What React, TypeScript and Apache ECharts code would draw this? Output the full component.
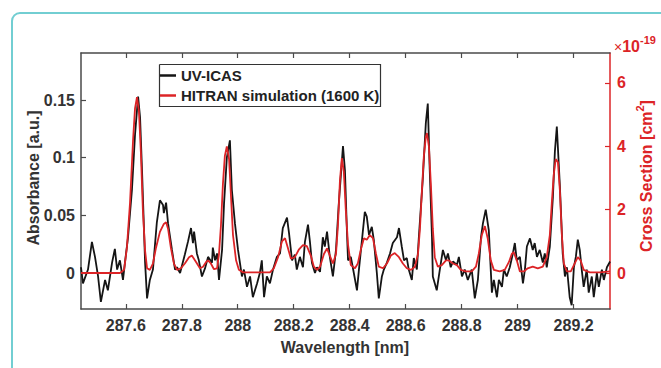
import React, { useEffect, useRef } from "react";
import * as echarts from "echarts";

// Measured UV-ICAS absorbance spectrum
const icasWavelength = [
  287.44, 287.447, 287.465, 287.479, 287.49, 287.501, 287.511, 287.526, 287.536, 287.551,
  287.561, 287.569, 287.579, 287.59, 287.597, 287.608, 287.622, 287.633, 287.644, 287.651,
  287.658, 287.669, 287.676, 287.686, 287.697, 287.711, 287.722, 287.733, 287.736, 287.744,
  287.751, 287.765, 287.776, 287.783, 287.794, 287.811, 287.822, 287.833, 287.84, 287.844,
  287.854, 287.861, 287.872, 287.883, 287.894, 287.908, 287.911, 287.919, 287.926, 287.933,
  287.944, 287.951, 287.961, 287.972, 287.979, 287.99, 288.001, 288.015, 288.022, 288.033,
  288.044, 288.054, 288.069, 288.079, 288.086, 288.094, 288.104, 288.115, 288.126, 288.14,
  288.151, 288.161, 288.176, 288.183, 288.194, 288.204, 288.211, 288.222, 288.233, 288.24,
  288.251, 288.258, 288.265, 288.276, 288.283, 288.294, 288.304, 288.311, 288.319, 288.329,
  288.34, 288.351, 288.361, 288.376, 288.383, 288.39, 288.394, 288.404, 288.411, 288.426,
  288.433, 288.444, 288.454, 288.461, 288.469, 288.479, 288.486, 288.497, 288.504, 288.515,
  288.522, 288.533, 288.544, 288.554, 288.569, 288.576, 288.586, 288.594, 288.604, 288.611,
  288.622, 288.629, 288.64, 288.647, 288.661, 288.672, 288.679, 288.686, 288.694, 288.697,
  288.711, 288.722, 288.733, 288.744, 288.751, 288.761, 288.769, 288.783, 288.79, 288.801,
  288.811, 288.822, 288.836, 288.847, 288.858, 288.869, 288.876, 288.886, 288.897, 288.908,
  288.915, 288.926, 288.933, 288.944, 288.951, 288.961, 288.972, 288.983, 288.99, 288.997,
  289.008, 289.019, 289.026, 289.033, 289.044, 289.054, 289.061, 289.069, 289.079, 289.09,
  289.097, 289.104, 289.115, 289.126, 289.133, 289.14, 289.151, 289.161, 289.169, 289.176,
  289.186, 289.193, 289.201, 289.208, 289.215, 289.222, 289.229, 289.236, 289.247, 289.254,
  289.265, 289.272, 289.283, 289.29, 289.301, 289.308, 289.319, 289.326, 289.33,
];
const icasAbsorbance = [
  0.005, -0.009, 0.003, 0.027, 0.014, -0.003, -0.025, -0.006, -0.015, 0.009,
  0.021, 0.003, 0.011, -0.006, 0.009, 0.031, 0.072, 0.12, 0.153, 0.135,
  0.089, 0.009, -0.022, -0.006, 0.003, 0.044, 0.063, 0.059, 0.052, 0.061,
  0.043, 0.02, 0.003, 0.005, 0.0, 0.016, 0.027, 0.039, 0.026, 0.036,
  0.017, 0.011, -0.003, 0.004, 0.014, 0.009, 0.022, 0.011, 0.017, -0.006,
  0.02, 0.06, 0.1, 0.115, 0.072, 0.043, 0.02, -0.003, 0.003, -0.012,
  -0.003, -0.021, -0.009, 0.0, 0.011, -0.021, -0.003, -0.009, 0.003, 0.014,
  0.017, 0.039, 0.048, 0.035, 0.011, 0.016, 0.003, 0.014, 0.005, 0.027,
  0.042, 0.027, 0.009, 0.0, 0.005, 0.001, 0.031, 0.023, 0.036, 0.014,
  -0.003, 0.02, 0.06, 0.11, 0.089, 0.037, 0.011, 0.014, 0.005, -0.015,
  0.003, 0.029, 0.053, 0.049, 0.033, 0.04, 0.029, 0.0, -0.022, -0.003,
  0.003, 0.009, 0.017, 0.026, 0.031, 0.039, 0.023, 0.011, 0.013, 0.003,
  -0.006, 0.013, 0.003, 0.031, 0.081, 0.13, 0.147, 0.089, 0.031, -0.003,
  -0.015, 0.003, 0.02, 0.011, 0.017, 0.005, 0.01, 0.007, 0.014, -0.003,
  0.003, -0.006, 0.003, -0.022, -0.006, 0.031, 0.043, 0.055, 0.037, -0.017,
  -0.006, -0.021, -0.006, -0.012, 0.003, -0.003, 0.005, 0.017, 0.026, 0.011,
  0.014, -0.009, 0.003, 0.023, 0.03, 0.02, 0.026, 0.014, 0.02, 0.009,
  0.017, 0.005, 0.023, 0.066, 0.105, 0.127, 0.075, 0.017, -0.003, 0.005,
  -0.021, -0.028, 0.005, 0.014, 0.029, 0.02, 0.003, -0.012, 0.003, -0.017,
  -0.003, -0.021, 0.0, -0.012, 0.003, -0.006, 0.005, 0.008, 0.01,
];

// HITRAN simulated cross section at 1600 K, in units of 1e-19 cm^2
const hitranWavelength = [
  287.44, 287.579, 287.594, 287.604, 287.615, 287.626, 287.633, 287.64, 287.647, 287.654,
  287.661, 287.669, 287.676, 287.686, 287.697, 287.708, 287.722, 287.736, 287.744, 287.751,
  287.761, 287.772, 287.783, 287.797, 287.811, 287.826, 287.836, 287.851, 287.865, 287.876,
  287.887, 287.894, 287.904, 287.915, 287.926, 287.933, 287.94, 287.947, 287.954, 287.961,
  287.969, 287.976, 287.983, 287.994, 288.004, 288.019, 288.115, 288.129, 288.144, 288.158,
  288.169, 288.179, 288.19, 288.204, 288.219, 288.233, 288.247, 288.261, 288.272, 288.283,
  288.294, 288.308, 288.319, 288.329, 288.34, 288.351, 288.358, 288.365, 288.372, 288.379,
  288.386, 288.394, 288.404, 288.419, 288.429, 288.44, 288.451, 288.461, 288.472, 288.483,
  288.494, 288.504, 288.519, 288.533, 288.547, 288.561, 288.576, 288.59, 288.604, 288.619,
  288.633, 288.644, 288.651, 288.658, 288.665, 288.672, 288.676, 288.683, 288.69, 288.697,
  288.704, 288.715, 288.729, 288.744, 288.754, 288.769, 288.783, 288.797, 288.815, 288.836,
  288.851, 288.861, 288.872, 288.883, 288.893, 288.904, 288.915, 288.936, 288.954, 288.969,
  288.979, 288.986, 288.997, 289.008, 289.022, 289.036, 289.054, 289.072, 289.09, 289.104,
  289.115, 289.122, 289.129, 289.136, 289.144, 289.151, 289.158, 289.165, 289.176, 289.19,
  289.201, 289.215, 289.225, 289.236, 289.258, 289.294, 289.33,
];
const hitranCrossSection = [
  0, 0, 0.1, 0.8, 2.2, 4.2, 5.2, 5.55, 5.1, 3.8,
  2.0, 0.7, 0.15, 0.1, 0.3, 0.8, 1.3, 1.55, 1.6, 1.4,
  0.8, 0.3, 0.1, 0.15, 0.3, 0.5, 0.55, 0.35, 0.15, 0.2,
  0.35, 0.4, 0.3, 0.12, 0.15, 0.6, 1.5, 2.8, 3.7, 4.0,
  3.6, 2.4, 1.2, 0.4, 0.1, 0.02, 0.02, 0.15, 0.5, 1.0,
  1.1, 0.8, 0.45, 0.5, 0.75, 0.88, 0.85, 0.55, 0.2, 0.1,
  0.2, 0.6, 0.78, 0.55, 0.3, 0.6, 1.5, 2.9, 3.63, 3.2,
  2.0, 0.9, 0.25, 0.15, 0.3, 0.75, 1.1, 1.05, 1.2, 1.1,
  0.6, 0.2, 0.15, 0.3, 0.55, 0.63, 0.5, 0.3, 0.15, 0.1,
  0.2, 0.6, 1.4, 2.6, 3.7, 4.3, 4.42, 4.0, 2.8, 1.4,
  0.5, 0.2, 0.25, 0.4, 0.4, 0.3, 0.25, 0.1, 0.05, 0.05,
  0.2, 0.6, 1.2, 1.48, 1.1, 0.4, 0.1, 0.05, 0.1, 0.35,
  0.6, 0.66, 0.4, 0.05, 0.05, 0.15, 0.2, 0.15, 0.2, 0.5,
  1.2, 2.2, 3.1, 3.6, 3.5, 2.6, 1.2, 0.3, 0.05, 0.05,
  0.25, 0.5, 0.4, 0.1, 0.02, 0.02, 0.05,
];

// Tick positions
const wavelengthTicks = [287.6, 287.8, 288, 288.2, 288.4, 288.6, 288.8, 289, 289.2];
const absorbanceTicks = [0, 0.05, 0.1, 0.15];
const crossSectionTicks = [0, 2, 4, 6];

const FONT = '"Liberation Sans", Arial, Helvetica, sans-serif';
const DARK = "#333333";
const FRAME = "#4a4a4a";
const RED = "#dc2427";
const BLACK = "#151515";

function pairs(xs: number[], ys: number[]) {
  const n = Math.min(xs.length, ys.length);
  const out: number[][] = [];
  for (let i = 0; i < n; i++) out.push([xs[i], ys[i]]);
  return out;
}

export default function App() {
  const ref = useRef<HTMLDivElement>(null);

  useEffect(() => {
    document.body.style.margin = "0";
    const chart = echarts.init(ref.current!, null, { renderer: "svg" });

    const tickLabel = {
      fontFamily: FONT,
      fontWeight: "bold" as const,
      fontSize: 16,
      color: DARK,
    };

    const frameTick = (values: number[], color: string) => ({
      show: true,
      inside: true,
      length: 5,
      customValues: values,
      lineStyle: { color, width: 1.2 },
    });

    // legend box corners
    const lx0 = 159.5;
    const ly0 = 64.5;
    const lx1 = 380.5;
    const ly1 = 106.5;

    chart.setOption({
      animation: false,
      backgroundColor: "#ffffff",
      grid: { left: 81, right: 51, top: 53, bottom: 59, containLabel: false },
      legend: {
        left: 159,
        top: 64,
        z: 30,
        orient: "vertical",
        itemWidth: 16,
        itemHeight: 2.5,
        itemGap: 3,
        padding: [3, 4, 3, 1],
        textStyle: {
          fontFamily: FONT,
          fontWeight: "bold",
          fontSize: 15,
          color: "#222",
          lineHeight: 17,
        },
        data: [
          { name: "UV-ICAS", icon: "rect" },
          { name: "HITRAN simulation (1600 K)", icon: "rect" },
        ],
      },
      xAxis: [
        {
          type: "value",
          min: 287.44,
          max: 289.33,
          position: "bottom",
          axisLine: { show: true, onZero: false, lineStyle: { color: FRAME, width: 1.5 } },
          axisTick: frameTick(wavelengthTicks, FRAME),
          axisLabel: { ...tickLabel, margin: 8, customValues: wavelengthTicks },
          splitLine: { show: false },
        },
        {
          type: "value",
          min: 287.44,
          max: 289.33,
          position: "top",
          axisLine: { show: true, onZero: false, lineStyle: { color: FRAME, width: 1.5 } },
          axisTick: frameTick(wavelengthTicks, FRAME),
          axisLabel: { show: false },
          splitLine: { show: false },
        },
      ],
      yAxis: [
        {
          type: "value",
          min: -0.0312,
          max: 0.1908,
          position: "left",
          axisLine: { show: true, onZero: false, lineStyle: { color: FRAME, width: 1.5 } },
          axisTick: frameTick(absorbanceTicks, FRAME),
          axisLabel: { ...tickLabel, margin: 6, customValues: absorbanceTicks },
          splitLine: { show: false },
        },
        {
          type: "value",
          min: -1.136,
          max: 6.947,
          position: "right",
          axisLine: { show: true, onZero: false, lineStyle: { color: RED, width: 1.5 } },
          axisTick: frameTick(crossSectionTicks, RED),
          axisLabel: { ...tickLabel, color: RED, margin: 7, customValues: crossSectionTicks },
          splitLine: { show: false },
        },
      ],
      series: [
        {
          name: "UV-ICAS",
          type: "line",
          xAxisIndex: 0,
          yAxisIndex: 0,
          data: pairs(icasWavelength, icasAbsorbance),
          showSymbol: false,
          color: BLACK,
          lineStyle: { color: BLACK, width: 1.8 },
          z: 2,
        },
        {
          name: "HITRAN simulation (1600 K)",
          type: "line",
          xAxisIndex: 0,
          yAxisIndex: 1,
          data: pairs(hitranWavelength, hitranCrossSection),
          showSymbol: false,
          color: RED,
          lineStyle: { color: RED, width: 1.8 },
          z: 3,
        },
      ],
      graphic: {
        elements: [
          {
            id: "outerFrame",
            type: "rect",
            silent: true,
            z: -10,
            shape: { x: 12, y: 13, width: 720, height: 420, r: 8 },
            style: { fill: "none", stroke: "#72ced2", lineWidth: 2 },
          },
          {
            id: "legendFrame",
            type: "polyline",
            silent: true,
            z: 25,
            shape: {
              points: [
                [lx0, ly0],
                [lx1, ly0],
                [lx1, ly1],
                [lx0, ly1],
                [lx0, ly0],
              ],
            },
            style: { fill: null, stroke: "#333333", lineWidth: 1.2 },
          },
          {
            id: "absName",
            type: "text",
            x: 33,
            y: 178,
            rotation: Math.PI / 2,
            style: {
              text: "Absorbance [a.u.]",
              fontFamily: FONT,
              fontWeight: "bold",
              fontSize: 16,
              fill: DARK,
              align: "center",
              verticalAlign: "middle",
            },
          },
          {
            id: "wlName",
            type: "text",
            x: 345,
            y: 347,
            style: {
              text: "Wavelength [nm]",
              fontFamily: FONT,
              fontWeight: "bold",
              fontSize: 16,
              fill: DARK,
              align: "center",
              verticalAlign: "middle",
            },
          },
          {
            id: "csName",
            type: "text",
            x: 644,
            y: 176,
            rotation: Math.PI / 2,
            style: {
              text: "{a|Cross Section [cm}{s|2}{a|]}",
              fill: RED,
              align: "center",
              verticalAlign: "middle",
              rich: {
                a: {
                  fontFamily: FONT,
                  fontWeight: "bold",
                  fontSize: 16,
                  fill: RED,
                  color: RED,
                  lineHeight: 20,
                  verticalAlign: "bottom",
                },
                s: {
                  fontFamily: FONT,
                  fontWeight: "bold",
                  fontSize: 11,
                  fill: RED,
                  color: RED,
                  lineHeight: 20,
                  verticalAlign: "top",
                },
              },
            },
          },
          {
            id: "scaleMark",
            type: "text",
            x: 614,
            y: 44,
            style: {
              text: "{x|×}{a|10}{s|-19}",
              fill: RED,
              align: "left",
              verticalAlign: "middle",
              rich: {
                x: {
                  fontFamily: FONT,
                  fontSize: 14,
                  color: RED,
                  fill: RED,
                  lineHeight: 20,
                  verticalAlign: "bottom",
                },
                a: {
                  fontFamily: FONT,
                  fontWeight: "bold",
                  fontSize: 16,
                  color: RED,
                  fill: RED,
                  lineHeight: 20,
                  verticalAlign: "bottom",
                },
                s: {
                  fontFamily: FONT,
                  fontWeight: "bold",
                  fontSize: 11,
                  color: RED,
                  fill: RED,
                  lineHeight: 20,
                  verticalAlign: "top",
                },
              },
            },
          },
        ],
      },
    });

    return () => chart.dispose();
  }, []);

  return <div ref={ref} style={{ width: 661, height: 368 }} />;
}
